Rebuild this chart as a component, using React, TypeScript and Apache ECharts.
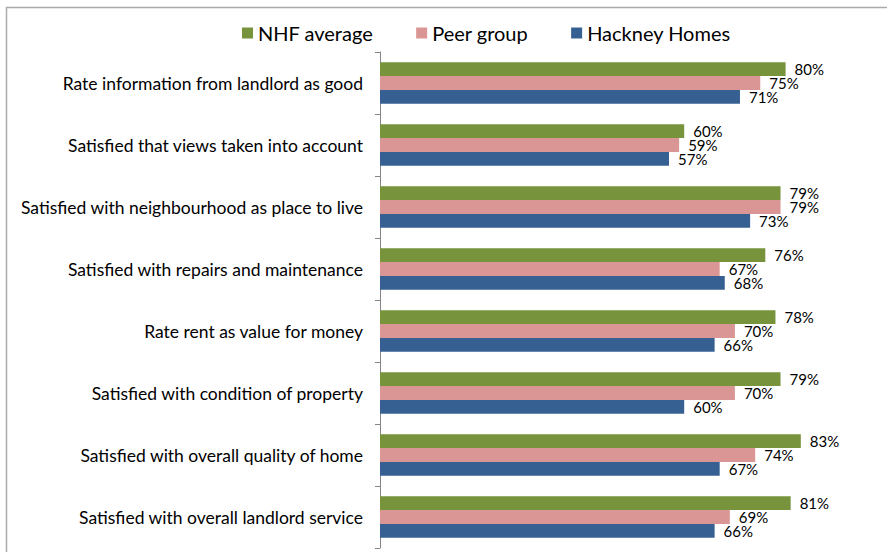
import React, { useEffect, useRef } from "react";
import * as echarts from "echarts";

const categories = [
  "Rate information from landlord as good",
  "Satisfied that views taken into account",
  "Satisfied with neighbourhood as place to live",
  "Satisfied with repairs and maintenance",
  "Rate rent as value for money",
  "Satisfied with condition of property",
  "Satisfied with overall quality of home",
  "Satisfied with overall landlord service",
];
const seriesNames = ["NHF average", "Peer group", "Hackney Homes"];
const nhfAverage = [80, 60, 79, 76, 78, 79, 83, 81];
const peerGroup = [75, 59, 79, 67, 70, 70, 74, 69];
const hackneyHomes = [71, 57, 73, 68, 66, 60, 67, 66];
const colors = ["#77933C", "#D99694", "#376092"];

export default function App() {
  const ref = useRef<HTMLDivElement>(null);
  useEffect(() => {
    if (!ref.current) return;
    const chart = echarts.init(ref.current, null, { renderer: "svg" });
    const values = [nhfAverage, peerGroup, hackneyHomes];
    chart.setOption({
      animation: false,
      textStyle: { fontFamily: "Lato" },
      graphic: [
        {
          type: "rect",
          shape: { x: 6.5, y: 7.5, width: 1000, height: 700 },
          style: { fill: "none", stroke: "#ababab", lineWidth: 1.5 },
          silent: true,
        },
      ],
      legend: {
        data: seriesNames,
        left: 242,
        top: 23,
        padding: 0,
        icon: "rect",
        itemWidth: 11,
        itemHeight: 11,
        itemGap: 43,
        textStyle: { fontSize: 20, color: "#000", fontFamily: "Lato" },
      },
      grid: { left: 380, top: 52, width: 507, height: 496 },
      xAxis: {
        type: "value",
        min: 0,
        max: 100,
        show: false,
      },
      yAxis: {
        type: "category",
        data: categories,
        inverse: true,
        axisLine: { show: true, lineStyle: { color: "#868686", width: 1 } },
        axisTick: { show: true, length: 5, lineStyle: { color: "#868686" } },
        axisLabel: {
          margin: 17,
          fontSize: 17.5,
          color: "#000",
          fontFamily: "Lato",
        },
      },
      series: seriesNames.map((name, i) => ({
        name,
        type: "bar",
        data: values[i],
        barGap: "0%",
        barCategoryGap: "33%",
        itemStyle: { color: colors[i] },
        label: {
          show: true,
          position: "right",
          distance: 9,
          formatter: "{c}%",
          fontSize: 15,
          fontWeight: "normal",
          color: "#000",
          fontFamily: "Lato",
        },
      })),
    });
    return () => chart.dispose();
  }, []);
  return (
    <div
      ref={ref}
      style={{ position: "absolute", left: 0, top: 0, width: 887, height: 552, background: "#fff" }}
    />
  );
}
